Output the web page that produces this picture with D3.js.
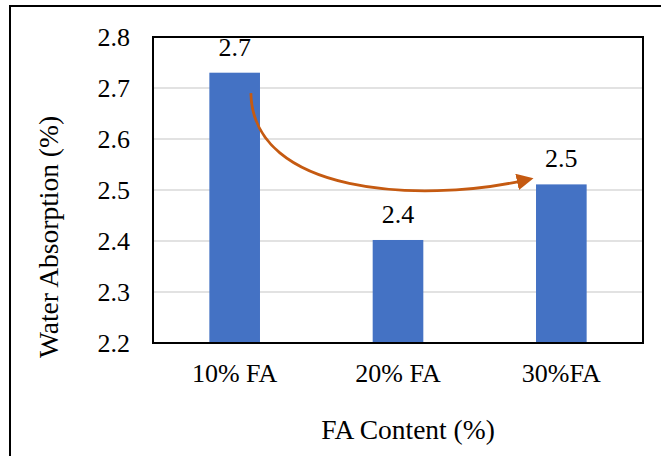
<!DOCTYPE html>
<html><head><meta charset="utf-8">
<script src="https://cdn.jsdelivr.net/npm/d3@7/dist/d3.min.js"></script>
<style>body{margin:0;background:#fff}svg{display:block}svg text{font-family:"Liberation Serif","Times New Roman",serif !important;fill:#000}</style>
</head><body><svg id="c" width="661" height="456"></svg>
<script>
const categories = ["10% FA", "20% FA", "30%FA"];
const values = [2.73, 2.402, 2.511];
const labels = ["2.7", "2.4", "2.5"];
const yTicks = [2.2, 2.3, 2.4, 2.5, 2.6, 2.7, 2.8];
const yTitle = "Water Absorption (%)";
const xTitle = "FA Content (%)";

const svg = d3.select("#c");
const m = {l:153, t:37, r:643, b:343};
const fs = 26;
const tfs = 27.5;
const serif = "'Liberation Serif', 'Times New Roman', serif";

// outer frame (left and top visible)
svg.append("rect").attr("x",10).attr("y",6).attr("width",700).attr("height",500)
  .attr("fill","none").attr("stroke","#000").attr("stroke-width",2);

const x = d3.scaleBand().domain(categories).range([m.l,m.r]).paddingInner(0.69).paddingOuter(0.345);
const y = d3.scaleLinear().domain([2.2,2.8]).range([m.b,m.t]);

// gridlines
svg.append("g").selectAll("line").data(yTicks.slice(1,-1)).join("line")
  .attr("x1",m.l).attr("x2",m.r).attr("y1",d=>y(d)).attr("y2",d=>y(d))
  .attr("stroke","#d9d9d9").attr("stroke-width",1.5);

// bars
svg.append("g").selectAll("rect").data(values).join("rect")
  .attr("x",(d,i)=>x(categories[i])).attr("width",x.bandwidth())
  .attr("y",d=>y(d)).attr("height",d=>y(2.2)-y(d)).attr("fill","#4472c4");

// plot border
svg.append("rect").attr("x",m.l).attr("y",m.t).attr("width",m.r-m.l).attr("height",m.b-m.t)
  .attr("fill","none").attr("stroke","#000").attr("stroke-width",2);

// y axis
const ya = d3.axisLeft(y).tickValues(yTicks).tickFormat(d3.format(".1f")).tickSize(0).tickPadding(23);
const yg = svg.append("g").attr("transform",`translate(${m.l},0)`).call(ya)
  .attr("font-family",serif).attr("font-size",fs);
yg.select(".domain").remove();
yg.selectAll("text").style("font-family",serif).style("font-size",fs+"px").attr("dy","0.34em");

// x axis
const xa = d3.axisBottom(x).tickSize(0).tickPadding(21);
const xg = svg.append("g").attr("transform",`translate(0,${m.b})`).call(xa)
  .attr("font-family",serif).attr("font-size",fs);
xg.select(".domain").remove();
xg.selectAll("text").style("font-family",serif).style("font-size",fs+"px");

// data labels
svg.append("g").selectAll("text").data(values).join("text")
  .attr("x",(d,i)=>x(categories[i])+x.bandwidth()/2).attr("y",d=>y(d)-17)
  .attr("text-anchor","middle").style("font-family",serif).style("font-size",fs+"px").text((d,i)=>labels[i]);

// titles
svg.append("text").attr("x",408).attr("y",439).attr("text-anchor","middle")
  .style("font-family",serif).style("font-size",tfs+"px").text(xTitle);
svg.append("text").attr("transform",`translate(58,237) rotate(-90)`)
  .attr("text-anchor","middle").style("font-family",serif).style("font-size",tfs+"px").text(yTitle);

// arrow annotation
const defs = svg.append("defs");
defs.append("marker").attr("id","ah").attr("viewBox","0 0 10 10").attr("refX",3).attr("refY",5)
  .attr("markerWidth",6).attr("markerHeight",6).attr("orient","auto")
  .append("path").attr("d","M0,0 L10,5 L0,10 z").attr("fill","#c55a11");
const x0 = x(categories[0])+x.bandwidth()*0.82, y0 = y(2.69);
const x1 = x(categories[2])-14, y1 = y(2.518);
const p = d3.path();
p.moveTo(x0,y0);
p.bezierCurveTo(x0+2, y(2.49), x0+170, y(2.475), x1, y1);
svg.append("path").attr("d",p.toString()).attr("fill","none").attr("stroke","#c55a11")
  .attr("stroke-width",2.8).attr("marker-end","url(#ah)");
</script></body></html>
